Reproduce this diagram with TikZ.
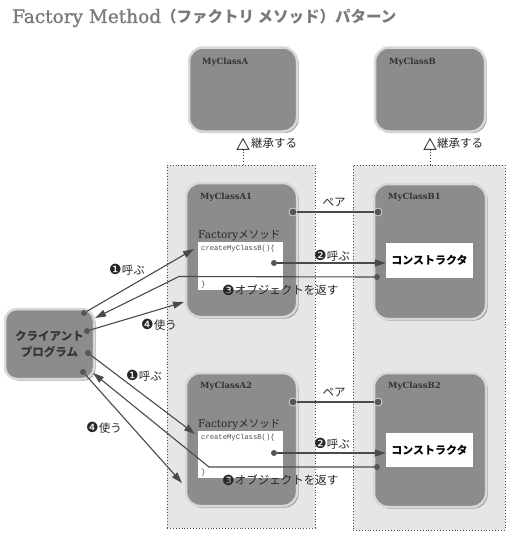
\documentclass[tikz,border=0pt]{standalone}
\usepackage{fontspec}
\setmainfont{DejaVu Serif}
\newfontfamily\jp{Noto Sans CJK JP}
\newfontfamily\dingf{DejaVu Sans}
\newfontfamily\monof{Liberation Mono}
\newfontfamily\slab{DejaVu Serif}
\newfontfamily\slabt[FakeBold=1.2]{DejaVu Serif}
\usetikzlibrary{arrows.meta,shadows}
\definecolor{boxg}{HTML}{8C8C8C}
\definecolor{bevel}{HTML}{D8D8D8}
\definecolor{contg}{HTML}{E6E6E6}
\definecolor{lineg}{HTML}{4A4A4A}
\definecolor{dotg}{HTML}{555555}
\definecolor{titleg}{HTML}{7A7A7A}
\definecolor{txtg}{HTML}{333333}
\newcommand{\cn}[1]{{\dingf\fontsize{14}{13}\selectfont\raisebox{-0.5pt}{#1}}}
\tikzset{
  cont/.style={draw=black!70, dotted, line width=0.9pt, fill=contg, inner sep=0pt},
  cls/.style={draw=bevel, line width=2.5pt, fill=boxg, rounded corners=14pt, inner sep=0pt,
     drop shadow={shadow xshift=1.6pt, shadow yshift=-1.6pt, fill=black!55, opacity=0.7}},
  wbox/.style={fill=white, draw=none, inner sep=0pt},
  clsname/.style={anchor=north west, inner sep=0pt, font=\slab\bfseries\fontsize{8.5}{10}\selectfont, text=txtg},
  lbl/.style={inner sep=0pt, font=\jp\fontsize{11.5}{13}\selectfont, text=black!85},
  dot/.style={circle, fill=dotg, draw=bevel, line width=0.8pt, minimum size=8pt, inner sep=0pt},
  sdot/.style={circle, fill=dotg, draw=none, minimum size=6pt, inner sep=0pt},
  conn/.style={draw=lineg, line width=1.1pt},
  arr/.style={conn, -{Triangle[length=11pt,width=7pt]}},
  inh/.style={draw=black!75, dotted, line width=0.9pt, -{Triangle[open,length=12pt,width=13pt,line width=0.9pt]}, shorten >=5pt},
}
\begin{document}
\begin{tikzpicture}[x=1pt,y=-1pt]
\useasboundingbox (0,0) rectangle (516,544);
% title
\node[anchor=west, inner sep=0pt, text=titleg] (title) at (12,18)
  {{\slabt\fontsize{18.5}{22}\selectfont Factory Method}{\jp\bfseries\fontsize{15.5}{22}\selectfont （ファクトリ メソッド）パターン}};
% containers
\node[cont, minimum width=148pt, minimum height=363pt] (contA) at (241,346.5) {};
\node[cont, minimum width=152pt, minimum height=365pt] (contB) at (429,347.5) {};
% base classes
\node[cls, minimum width=108pt, minimum height=84pt] (MA) at (243,89.5) {};
\node[cls, minimum width=110pt, minimum height=84pt] (MB) at (430,89.5) {};
\node[clsname] (nMA) at (202,58) {MyClassA};
\node[clsname] (nMB) at (389,58) {MyClassB};
% inheritance
\draw[inh] (contA.north -| MA.south) -- (MA.south);
\draw[inh] (contB.north -| MB.south) -- (MB.south);
\node[lbl, anchor=west] (iA) at (251,143) {継承する};
\node[lbl, anchor=west] (iB) at (437,143) {継承する};
% subclasses
\node[cls, minimum width=111pt, minimum height=134pt] (A1) at (241.5,250) {};
\node[cls, minimum width=111pt, minimum height=133pt] (A2) at (241.5,439.5) {};
\node[cls, minimum width=112pt, minimum height=135pt] (B1) at (430,251.5) {};
\node[cls, minimum width=112pt, minimum height=134pt] (B2) at (430,440) {};
\node[clsname] (nA1) at (200,193) {MyClassA1};
\node[clsname] (nA2) at (200,382) {MyClassA2};
\node[clsname] (nB1) at (388,193) {MyClassB1};
\node[clsname] (nB2) at (388,382) {MyClassB2};
% factory method labels
\node[anchor=south west, inner sep=0pt, font=\jp\fontsize{11}{13}\selectfont, text=black!85] (fA1) at (198,241) {\slab\fontsize{10.5}{12}\selectfont Factory\jp メソッド};
\node[anchor=south west, inner sep=0pt, font=\jp\fontsize{11}{13}\selectfont, text=black!85] (fA2) at (198,430) {\slab\fontsize{10.5}{12}\selectfont Factory\jp メソッド};
\node[wbox, minimum width=85pt, minimum height=48pt] (wA1) at (240.5,266) {};
\node[wbox, minimum width=85pt, minimum height=47pt] (wA2) at (240.5,454.5) {};
\node[anchor=north west, inner sep=0pt, font=\monof\fontsize{7.2}{9}\selectfont, text=black!70] (cA1) at (201,245) {createMyClassB()\{};
\node[anchor=north west, inner sep=0pt, font=\monof\fontsize{7.2}{9}\selectfont, text=black!70] (cA2) at (201,434) {createMyClassB()\{};
\node[anchor=south west, inner sep=0pt, font=\monof\fontsize{7.2}{9}\selectfont, text=black!70] (eA1) at (201,288) {\}};
\node[anchor=south west, inner sep=0pt, font=\monof\fontsize{7.2}{9}\selectfont, text=black!70] (eA2) at (201,476) {\}};
% constructors
\node[wbox, minimum width=87pt, minimum height=35pt, font=\jp\bfseries\fontsize{11}{13}\selectfont] (kB1) at (429.5,260.5) {コンストラクタ};
\node[wbox, minimum width=87pt, minimum height=34pt, font=\jp\bfseries\fontsize{11}{13}\selectfont] (kB2) at (429.5,450) {コンストラクタ};
% client
\node[cls, rounded corners=12pt, minimum width=89pt, minimum height=70pt, align=center, font=\jp\bfseries\fontsize{11.5}{16}\selectfont, text=txtg] (cl) at (49.5,344) {クライアント\\プログラム};
% pair dots
\node[dot] (pA1) at (293,212) {};
\node[dot] (pB1) at (378,212) {};
\node[dot] (pA2) at (293,402) {};
\node[dot] (pB2) at (378,402) {};
\draw[conn] (pA1) -- (pB1);
\draw[conn] (pA2) -- (pB2);
\node[lbl] (lp1) at (334,203) {ペア};
\node[lbl] (lp2) at (334,393) {ペア};
% call constructor
\node[sdot] (sA1) at (274,263) {};
\node[sdot] (sA2) at (274,453) {};
\draw[arr] (sA1) -- (sA1 -| kB1.west);
\draw[arr] (sA2) -- (sA2 -| kB2.west);
\node[lbl, anchor=west] (l21) at (314,256) {\cn{❷}呼ぶ};
\node[lbl, anchor=west] (l22) at (314,444) {\cn{❷}呼ぶ};
% return
\node[sdot] (rB1) at (377,277) {};
\node[sdot] (rB2) at (377,467) {};
\coordinate (bA1) at (179,276.5);
\coordinate (bA2) at (209,467);
\coordinate (tc1) at (95,318);
\coordinate (tc2) at (93,373);
\draw[arr] (rB1) -- (bA1) -- (tc1);
\draw[arr] (rB2) -- (bA2) -- (tc2);
\node[lbl, anchor=west] (l31) at (222,290) {\cn{❸}オブジェクトを返す};
\node[lbl, anchor=west] (l32) at (222,480) {\cn{❸}オブジェクトを返す};
% client calls
\node[sdot] (c1) at (84,313) {};
\node[sdot] (c2) at (87,331) {};
\node[sdot] (c3) at (88,353) {};
\node[sdot] (c4) at (83,372) {};
\coordinate (t1) at (194,249);
\coordinate (t4) at (184,302);
\coordinate (t1b) at (195,434);
\coordinate (t4b) at (182,483);
\draw[arr] (c1) -- (t1);
\draw[arr] (c2) -- (t4);
\draw[arr] (c3) -- (t1b);
\draw[arr] (c4) -- (t4b);
\node[lbl, anchor=west] (l11) at (109,270) {\cn{❶}呼ぶ};
\node[lbl, anchor=west] (l41) at (141,325) {\cn{❹}使う};
\node[lbl, anchor=west] (l12) at (126,376) {\cn{❶}呼ぶ};
\node[lbl, anchor=west] (l42) at (86,428) {\cn{❹}使う};
\end{tikzpicture}
\end{document}
